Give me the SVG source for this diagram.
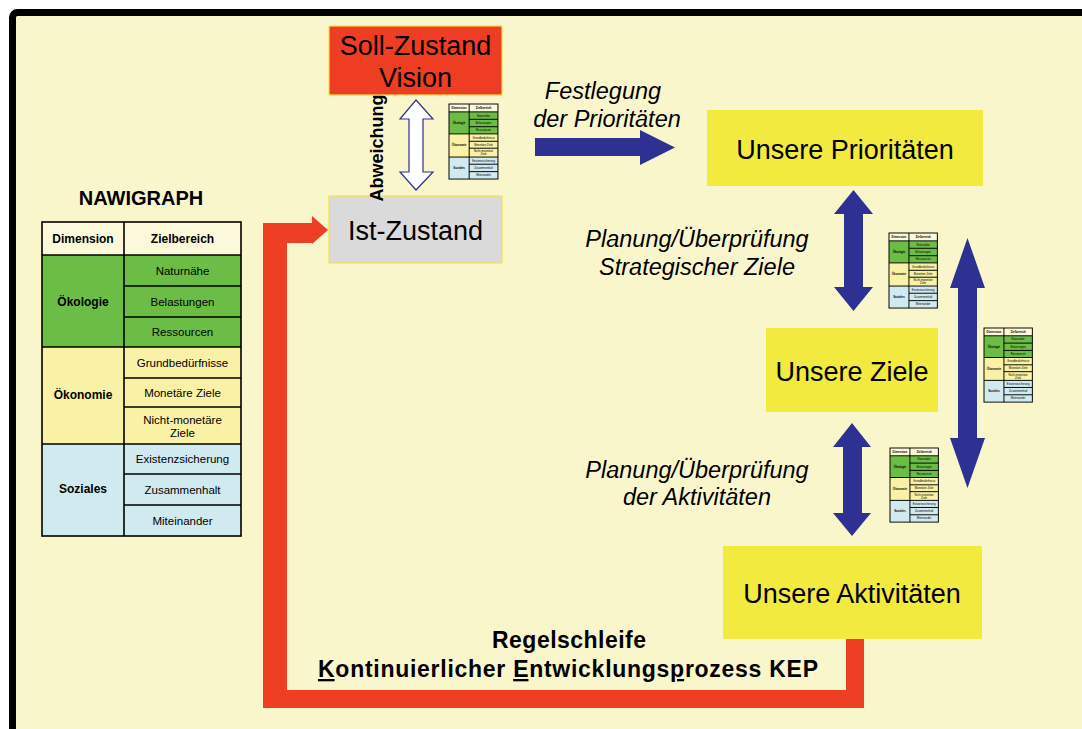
<svg xmlns="http://www.w3.org/2000/svg" width="1082" height="729" viewBox="0 0 1082 729">
<style>
.box{font-family:"Liberation Sans",Arial,sans-serif;font-size:27px;fill:#000;text-anchor:middle}
.lbl{font-family:"Liberation Sans",Arial,sans-serif;font-size:23.5px;font-style:italic;fill:#000;text-anchor:middle}
.bold{font-family:"Liberation Sans",Arial,sans-serif;font-weight:bold;fill:#000;text-anchor:middle}
.th{font-family:"Liberation Sans",Arial,sans-serif;font-weight:bold;font-size:12px;fill:#000;text-anchor:middle}
.td{font-family:"Liberation Sans",Arial,sans-serif;font-size:11.5px;fill:#000;text-anchor:middle}
.grid{stroke:#000;fill:none}
.blue{fill:#2E3192}
</style>
<defs>
<g id="nawi">
<rect x="0" y="0" width="199" height="33" fill="#FCF8DA"/>
<rect x="0" y="33" width="199" height="92" fill="#6CBD45"/>
<rect x="0" y="125" width="199" height="97" fill="#F9F1A5"/>
<rect x="0" y="222" width="199" height="92" fill="#D1EAF0"/>
<g class="grid">
<rect x="0" y="0" width="199" height="314"/>
<path d="M82,0V314M0,33H199M0,125H199M0,222H199M82,64H199M82,95H199M82,156H199M82,185H199M82,252H199M82,283H199"/>
</g>
<text class="th" x="41" y="21">Dimension</text>
<text class="th" x="140.5" y="21">Zielbereich</text>
<text class="th" x="41" y="84">Ökologie</text>
<text class="th" x="41" y="177">Ökonomie</text>
<text class="th" x="41" y="271">Soziales</text>
<text class="td" x="140.5" y="52.5">Naturnähe</text>
<text class="td" x="140.5" y="83.5">Belastungen</text>
<text class="td" x="140.5" y="114">Ressourcen</text>
<text class="td" x="140.5" y="144.5">Grundbedürfnisse</text>
<text class="td" x="140.5" y="174.5">Monetäre Ziele</text>
<text class="td" x="140.5" y="202">Nicht-monetäre</text>
<text class="td" x="140.5" y="215">Ziele</text>
<text class="td" x="140.5" y="241">Existenzsicherung</text>
<text class="td" x="140.5" y="271.5">Zusammenhalt</text>
<text class="td" x="140.5" y="302.5">Miteinander</text>
</g>
</defs>
<rect x="0" y="0" width="1082" height="729" fill="#FFFFFF"/>
<rect x="12.5" y="12.5" width="1100" height="740" rx="5" fill="#FAF6CC" stroke="#000" stroke-width="7"/>

<g id="connectors">
<path id="regelschleife" d="M263,223H312V216L328,230L312,244V243H287V690H846V638H864V708H263Z" fill="#EE3E24"/>
<polygon id="abweichung-arrow" points="416,100 433,119 423,119 423,172 433,172 416,190 400,172 409,172 409,119 400,119" fill="#FFFFFF" stroke="#2E3192" stroke-width="1.2"/>
<polygon id="festlegung-arrow" class="blue" points="535,138 640,138 640,130 675,147.5 640,165 640,156 535,156"/>
<polygon id="prio-ziele-arrow" class="blue" points="853.5,190 873,214 863,214 863,287 873,287 853.5,311 834,287 844,287 844,214 834,214"/>
<polygon id="ziele-akt-arrow" class="blue" points="852,423 871,447 862,447 862,513 871,513 852,536 833,513 843,513 843,447 833,447"/>
<polygon id="prio-akt-arrow" class="blue" points="967.5,238 985,288 977,288 977,438 985,438 967.5,488 950,438 958,438 958,288 950,288"/>
</g>

<g id="soll-zustand">
<rect x="329" y="26" width="173" height="69" fill="#EF3D23" stroke="#F3E24A" stroke-width="1.2"/>
<text class="box" x="415.5" y="55">Soll-Zustand</text>
<text class="box" x="415.5" y="87">Vision</text>
</g>
<g id="ist-zustand">
<rect x="329" y="196" width="173" height="67" fill="#DADADA" stroke="#F3E24A" stroke-width="1.2"/>
<text class="box" x="415.5" y="240">Ist-Zustand</text>
</g>
<g id="unsere-prioritaeten">
<rect x="707" y="110" width="276" height="76" fill="#F2EA3F"/>
<text class="box" x="845" y="159">Unsere Prioritäten</text>
</g>
<g id="unsere-ziele">
<rect x="766" y="328" width="172" height="84" fill="#F2EA3F"/>
<text class="box" x="852" y="381">Unsere Ziele</text>
</g>
<g id="unsere-aktivitaeten">
<rect x="723" y="546" width="259" height="93" fill="#F2EA3F"/>
<text class="box" x="852" y="603">Unsere Aktivitäten</text>
</g>

<g id="nawigraph">
<text class="bold" x="141" y="205" font-size="20">NAWIGRAPH</text>
<use href="#nawi" transform="translate(42,222)" style="stroke-width:1.6"/>
</g>
<g id="mini-tables">
<use href="#nawi" transform="translate(449,104) scale(0.246,0.239)" style="stroke-width:4"/>
<use href="#nawi" transform="translate(889,233) scale(0.243,0.239)" style="stroke-width:4"/>
<use href="#nawi" transform="translate(984,328) scale(0.243,0.236)" style="stroke-width:4"/>
<use href="#nawi" transform="translate(890,448) scale(0.243,0.236)" style="stroke-width:4"/>
</g>

<g id="labels">
<text class="bold" font-size="18" transform="translate(383,148) rotate(-90)">Abweichung</text>
<text class="lbl" x="603" y="99">Festlegung</text>
<text class="lbl" x="607" y="127">der Prioritäten</text>
<text class="lbl" x="697" y="247">Planung/Überprüfung</text>
<text class="lbl" x="697" y="275">Strategischer Ziele</text>
<text class="lbl" x="697" y="478">Planung/Überprüfung</text>
<text class="lbl" x="697" y="505">der Aktivitäten</text>
<text class="bold" font-size="23" x="569" y="648" textLength="154">Regelschleife</text>
<text class="bold" font-size="23" x="568" y="677" textLength="500"><tspan text-decoration="underline">K</tspan>ontinuierlicher <tspan text-decoration="underline">E</tspan>ntwicklungs<tspan text-decoration="underline">p</tspan>rozess KEP</text>
</g>
</svg>
